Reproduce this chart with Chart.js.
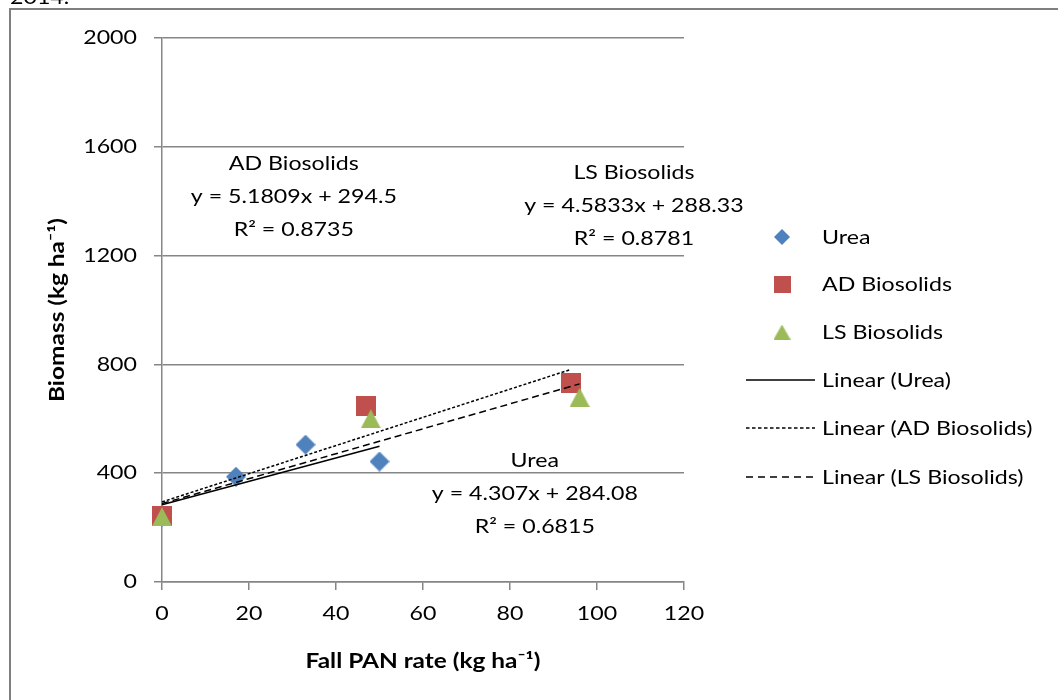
<!DOCTYPE html>
<html><head><meta charset="utf-8">
<script src="https://cdn.jsdelivr.net/npm/chart.js@4/dist/chart.umd.min.js"></script>
<style>html,body{margin:0;padding:0;background:#fff;}canvas{display:block;}</style>
</head><body>
<canvas id="c" width="1058" height="700"></canvas>
<script>
// ---------- data ----------
const xTickLabels = [0, 20, 40, 60, 80, 100, 120];
const yTickLabels = [0, 400, 800, 1200, 1600, 2000];
const seriesNames = ['Urea', 'AD Biosolids', 'LS Biosolids'];
const ureaX = [0, 17, 33, 50];
const ureaY = [240, 387, 505, 443];
const adX = [0, 47, 94];
const adY = [244, 646, 733];
const lsX = [0, 48, 96];
const lsY = [240, 600, 679];
const trendNames = ['Linear (Urea)', 'Linear (AD Biosolids)', 'Linear (LS Biosolids)'];
const trendUreaX = [0, 50];
const trendUreaY = [284.1, 499.4];
const trendAdX = [0, 94];
const trendAdY = [294.5, 781.5];
const trendLsX = [0, 96];
const trendLsY = [288.3, 728.3];
const eqUrea = ['Urea', 'y = 4.307x + 284.08', 'R² = 0.6815'];
const eqAd = ['AD Biosolids', 'y = 5.1809x + 294.5', 'R² = 0.8735'];
const eqLs = ['LS Biosolids', 'y = 4.5833x + 288.33', 'R² = 0.8781'];
const eqAnchorX = [85.7, 30.3, 108.5];
const eqAnchorY = [446, 1537, 1504];
const xTitle = 'Fall PAN rate (kg ha⁻¹)';
const yTitle = 'Biomass (kg ha⁻¹)';
const topText = '2014.';

// ---------- styling ----------
const S = 1.22;            // horizontal text stretch
const FONT = 'Lato';
const FS = 19;
const TFS = 20;
const GRID = '#868686';
const BLUE = '#4F81BD', RED = '#C0504D', GREEN = '#9BBB59';

const canvas = document.getElementById('c');
const ctx = canvas.getContext('2d');
const oFill = ctx.fillText, oMeasure = ctx.measureText;
ctx.fillText = function (t, x, y, mw) {
  this.save(); this.translate(x, y); this.scale(S, 1);
  if (mw !== undefined && mw !== null) oFill.call(this, t, 0, 0, mw / S); else oFill.call(this, t, 0, 0);
  this.restore();
};
ctx.measureText = function (t) {
  const m = oMeasure.call(this, t);
  return { width: m.width * S, actualBoundingBoxAscent: m.actualBoundingBoxAscent,
    actualBoundingBoxDescent: m.actualBoundingBoxDescent,
    actualBoundingBoxLeft: m.actualBoundingBoxLeft * S, actualBoundingBoxRight: m.actualBoundingBoxRight * S };
};

function marker(shape, w, h, color) {
  const m = document.createElement('canvas'); m.width = w; m.height = h;
  const g = m.getContext('2d'); g.fillStyle = color; g.beginPath();
  if (shape === 'diamond') { g.moveTo(w / 2, 0); g.lineTo(w, h / 2); g.lineTo(w / 2, h); g.lineTo(0, h / 2); }
  else if (shape === 'square') { g.rect(0, 0, w, h); }
  else { g.moveTo(w / 2, 0); g.lineTo(w, h); g.lineTo(0, h); }
  g.closePath(); g.fill(); return m;
}
const mDiamond = marker('diamond', 20, 20, BLUE);
const mSquare = marker('square', 20, 20, RED);
const mTri = marker('tri', 20, 19, GREEN);
const lDiamond = marker('diamond', 16, 16, BLUE);
const lSquare = marker('square', 17, 17, RED);
const lTri = marker('tri', 17, 15, GREEN);

const pts = (xs, ys) => xs.map((x, i) => ({ x: x, y: ys[i] }));

const framePlugin = {
  id: 'frame',
  beforeDraw(chart) {
    const c = chart.ctx; c.save();
    c.strokeStyle = '#7f7f7f'; c.lineWidth = 2;
    c.beginPath(); c.moveTo(1058, 9); c.lineTo(10, 9); c.lineTo(10, 700); c.stroke();
    c.fillStyle = '#000'; c.font = FS + 'px ' + FONT; c.textAlign = 'left'; c.textBaseline = 'alphabetic';
    c.fillText(topText, 10, 4);
    c.restore();
  },
  afterDraw(chart) {
    const c = chart.ctx, xs = chart.scales.x, ys = chart.scales.y;
    c.save();
    c.fillStyle = '#000'; c.font = FS + 'px ' + FONT; c.textAlign = 'center'; c.textBaseline = 'middle';
    [eqUrea, eqAd, eqLs].forEach((lines, k) => {
      const px = xs.getPixelForValue(eqAnchorX[k]);
      const py = ys.getPixelForValue(eqAnchorY[k]);
      lines.forEach((t, j) => c.fillText(t, px, py + j * 33));
    });
    // legend
    const rows = [237, 284, 332, 380, 428, 477];
    const mk = [lDiamond, lSquare, lTri];
    c.textAlign = 'left';
    seriesNames.forEach((n, i) => {
      const m = mk[i];
      c.drawImage(m, 782 - m.width / 2, rows[i] - m.height / 2);
      c.fillText(n, 822, rows[i] + 1);
    });
    const dashes = [[], [3.5, 2.5], [7, 5]];
    trendNames.forEach((n, i) => {
      const y = rows[i + 3];
      c.save(); c.strokeStyle = '#000'; c.lineWidth = 1.5; c.setLineDash(dashes[i]);
      c.beginPath(); c.moveTo(746, y); c.lineTo(815, y); c.stroke(); c.restore();
      c.fillText(n, 822, y + 1);
    });
    c.restore();
  }
};

new Chart(ctx, {
  type: 'scatter',
  data: {
    datasets: [
      { label: trendNames[0], data: pts(trendUreaX, trendUreaY), showLine: true, pointRadius: 0, borderColor: '#000', borderWidth: 1.5, order: 0, clip: false },
      { label: trendNames[1], data: pts(trendAdX, trendAdY), showLine: true, pointRadius: 0, borderColor: '#000', borderWidth: 1.5, borderDash: [3, 2], order: 0, clip: false },
      { label: trendNames[2], data: pts(trendLsX, trendLsY), showLine: true, pointRadius: 0, borderColor: '#000', borderWidth: 1.5, borderDash: [7, 4], order: 0, clip: false },
      { label: seriesNames[2], data: pts(lsX, lsY), pointStyle: mTri, pointRadius: 10, order: 1, clip: false },
      { label: seriesNames[1], data: pts(adX, adY), pointStyle: mSquare, pointRadius: 10, order: 2, clip: false },
      { label: seriesNames[0], data: pts(ureaX, ureaY), pointStyle: mDiamond, pointRadius: 10, order: 3, clip: false }
    ]
  },
  options: {
    responsive: false, animation: false, devicePixelRatio: 1,
    layout: { padding: { left: 0, top: 38, right: 374, bottom: 0 } },
    plugins: { legend: { display: false }, tooltip: { enabled: false } },
    font: { family: FONT, size: FS },
    scales: {
      x: {
        type: 'linear', min: 0, max: 120,
        afterBuildTicks: s => { s.ticks = xTickLabels.map(v => ({ value: v })); },
        afterFit: s => { s.height = 118; },
        ticks: { callback: v => String(v), color: '#000', font: { family: FONT, size: FS }, padding: 12, maxRotation: 0, autoSkip: false },
        grid: { drawOnChartArea: false, drawTicks: true, tickLength: 8, color: GRID, lineWidth: 1.5 },
        border: { color: GRID, width: 1.5 },
        title: { display: true, text: xTitle, color: '#000', font: { family: FONT, size: TFS, weight: 'bold' }, padding: { top: 0, bottom: 26 } }
      },
      y: {
        type: 'linear', min: 0, max: 2000,
        afterBuildTicks: s => { s.ticks = yTickLabels.map(v => ({ value: v })); },
        afterFit: s => { s.width = 162; },
        ticks: { callback: v => String(v), color: '#000', font: { family: FONT, size: FS }, padding: 17 },
        grid: { drawTicks: true, tickLength: 8, color: GRID, lineWidth: 1.5 },
        border: { color: GRID, width: 1.5 },
        title: { display: true, text: yTitle, color: '#000', font: { family: FONT, size: TFS, weight: 'bold' }, padding: { top: 46, bottom: 0 } }
      }
    }
  },
  plugins: [framePlugin]
});
</script>
</body></html>
